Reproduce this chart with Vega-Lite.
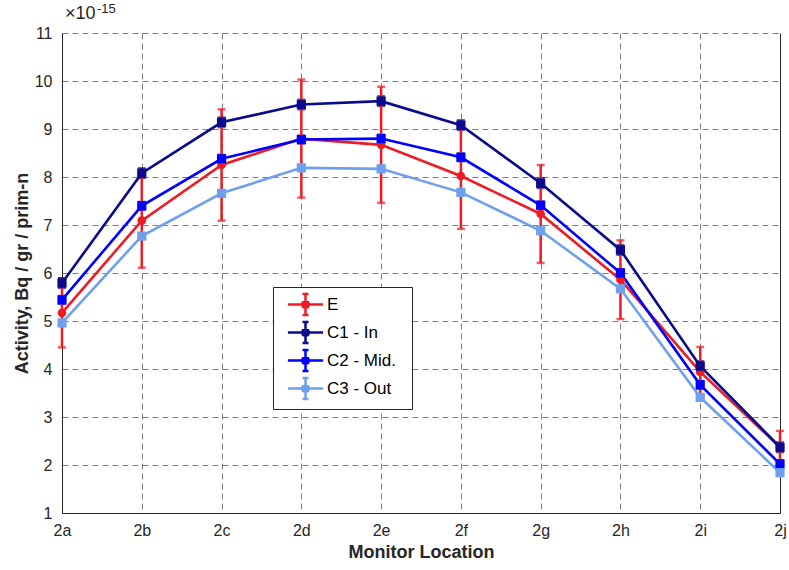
{
  "$schema": "https://vega.github.io/schema/vega-lite/v6.json",
  "width": 718,
  "height": 480,
  "autosize": {"type": "none"},
  "padding": {"left": 62, "top": 33, "right": 9, "bottom": 57},
  "background": "white",
  "config": {
    "view": {"stroke": null},
    "font": "Liberation Sans",
    "axis": {
      "labelFont": "Liberation Sans",
      "titleFont": "Liberation Sans",
      "labelColor": "#262626",
      "titleColor": "#262626",
      "domainColor": "#262626",
      "domainWidth": 1,
      "ticks": false,
      "gridColor": "#262626",
      "gridOpacity": 0.6,
      "gridDash": [6, 4],
      "gridWidth": 1,
      "labelFontSize": 16,
      "titleFontSize": 18,
      "titleFontWeight": "bold"
    }
  },
  "datasets": {
    "act": [
      {"loc": "2a", "series": "E", "v": 5.17e-15, "e": 0.72e-15},
      {"loc": "2b", "series": "E", "v": 7.09e-15, "e": 0.98e-15},
      {"loc": "2c", "series": "E", "v": 8.25e-15, "e": 1.16e-15},
      {"loc": "2d", "series": "E", "v": 8.80e-15, "e": 1.23e-15},
      {"loc": "2e", "series": "E", "v": 8.67e-15, "e": 1.21e-15},
      {"loc": "2f", "series": "E", "v": 8.02e-15, "e": 1.10e-15},
      {"loc": "2g", "series": "E", "v": 7.23e-15, "e": 1.02e-15},
      {"loc": "2h", "series": "E", "v": 5.86e-15, "e": 0.82e-15},
      {"loc": "2i", "series": "E", "v": 3.94e-15, "e": 0.52e-15},
      {"loc": "2j", "series": "E", "v": 2.37e-15, "e": 0.34e-15},
      {"loc": "2a", "series": "C1 - In", "v": 5.79e-15, "e": 0.10e-15},
      {"loc": "2b", "series": "C1 - In", "v": 8.08e-15, "e": 0.10e-15},
      {"loc": "2c", "series": "C1 - In", "v": 9.14e-15, "e": 0.10e-15},
      {"loc": "2d", "series": "C1 - In", "v": 9.51e-15, "e": 0.10e-15},
      {"loc": "2e", "series": "C1 - In", "v": 9.58e-15, "e": 0.10e-15},
      {"loc": "2f", "series": "C1 - In", "v": 9.08e-15, "e": 0.10e-15},
      {"loc": "2g", "series": "C1 - In", "v": 7.87e-15, "e": 0.10e-15},
      {"loc": "2h", "series": "C1 - In", "v": 6.48e-15, "e": 0.10e-15},
      {"loc": "2i", "series": "C1 - In", "v": 4.06e-15, "e": 0.10e-15},
      {"loc": "2j", "series": "C1 - In", "v": 2.37e-15, "e": 0.10e-15},
      {"loc": "2a", "series": "C2 - Mid.", "v": 5.44e-15, "e": 0.08e-15},
      {"loc": "2b", "series": "C2 - Mid.", "v": 7.40e-15, "e": 0.08e-15},
      {"loc": "2c", "series": "C2 - Mid.", "v": 8.38e-15, "e": 0.08e-15},
      {"loc": "2d", "series": "C2 - Mid.", "v": 8.78e-15, "e": 0.08e-15},
      {"loc": "2e", "series": "C2 - Mid.", "v": 8.80e-15, "e": 0.08e-15},
      {"loc": "2f", "series": "C2 - Mid.", "v": 8.41e-15, "e": 0.08e-15},
      {"loc": "2g", "series": "C2 - Mid.", "v": 7.41e-15, "e": 0.08e-15},
      {"loc": "2h", "series": "C2 - Mid.", "v": 6.00e-15, "e": 0.08e-15},
      {"loc": "2i", "series": "C2 - Mid.", "v": 3.67e-15, "e": 0.08e-15},
      {"loc": "2j", "series": "C2 - Mid.", "v": 2.02e-15, "e": 0.08e-15},
      {"loc": "2a", "series": "C3 - Out", "v": 4.96e-15, "e": 0.06e-15},
      {"loc": "2b", "series": "C3 - Out", "v": 6.77e-15, "e": 0.06e-15},
      {"loc": "2c", "series": "C3 - Out", "v": 7.66e-15, "e": 0.06e-15},
      {"loc": "2d", "series": "C3 - Out", "v": 8.19e-15, "e": 0.06e-15},
      {"loc": "2e", "series": "C3 - Out", "v": 8.17e-15, "e": 0.06e-15},
      {"loc": "2f", "series": "C3 - Out", "v": 7.68e-15, "e": 0.06e-15},
      {"loc": "2g", "series": "C3 - Out", "v": 6.88e-15, "e": 0.06e-15},
      {"loc": "2h", "series": "C3 - Out", "v": 5.67e-15, "e": 0.06e-15},
      {"loc": "2i", "series": "C3 - Out", "v": 3.41e-15, "e": 0.06e-15},
      {"loc": "2j", "series": "C3 - Out", "v": 1.84e-15, "e": 0.06e-15}
    ]
  },
  "resolve": {"axis": {"y": "independent"}},
  "layer": [
    {
      "data": {"name": "act"},
      "mark": {"type": "line", "strokeWidth": 2.6},
      "encoding": {
        "x": {
          "field": "loc", "type": "ordinal",
          "scale": {"type": "point", "padding": 0},
          "axis": {"title": "Monitor Location", "labelAngle": 0, "labelPadding": 9, "titlePadding": 5, "grid": true}
        },
        "y": {
          "field": "v", "type": "quantitative",
          "scale": {"domain": [1e-15, 11e-15], "nice": false, "zero": false},
          "axis": {
            "title": "Activity, Bq / gr / prim-n",
            "values": [1e-15, 2e-15, 3e-15, 4e-15, 5e-15, 6e-15, 7e-15, 8e-15, 9e-15, 10e-15, 11e-15],
            "labelExpr": "round(datum.value * 1e15)",
            "labelPadding": 10,
            "titlePadding": 3,
            "grid": true
          }
        },
        "color": {
          "field": "series", "type": "nominal",
          "scale": {"domain": ["E", "C1 - In", "C2 - Mid.", "C3 - Out"], "range": ["#ed1c24", "#0a0a8c", "#0000ff", "#6fa0ee"]},
          "legend": {
            "title": "\u00a0",
            "titleOrient": "right",
            "titlePadding": 11,
            "titleFontSize": 8,
            "orient": "none",
            "legendX": 211,
            "legendY": 254,
            "symbolType": "M-1.6,0H1.6M0,-0.95V0.95M-0.27,-0.95H0.27M-0.27,0.95H0.27M0.32,0L0.226,0.226L0,0.32L-0.226,0.226L-0.32,0L-0.226,-0.226L0,-0.32L0.226,-0.226Z",
            "symbolSize": 484,
            "symbolStrokeWidth": 2.5,
            "labelFont": "Liberation Sans",
            "labelFontSize": 17,
            "labelColor": "#000000",
            "padding": 5,
            "symbolOffset": 15,
            "labelOffset": 9,
            "rowPadding": -6,
            "strokeColor": "#262626",
            "fillColor": "white",
            "encode": {
              "symbols": {
                "update": {
                  "shape": {"value": "M-1.6,0H1.6M0,-0.95V0.95M-0.27,-0.95H0.27M-0.27,0.95H0.27M0.32,0L0.226,0.226L0,0.32L-0.226,0.226L-0.32,0L-0.226,-0.226L0,-0.32L0.226,-0.226Z"},
                  "size": {"value": 484},
                  "strokeWidth": {"value": 2.5},
                  "fill": {"scale": "color", "field": "value"},
                  "stroke": {"scale": "color", "field": "value"},
                  "opacity": {"value": 1}
                }
              }
            }
          }
        },
        "order": {"field": "loc"}
      }
    },
    {
      "data": {"name": "act"},
      "mark": {"type": "errorbar", "ticks": {"size": 8, "thickness": 2.5}, "thickness": 2.5},
      "encoding": {
        "x": {"field": "loc", "type": "ordinal"},
        "y": {
          "field": "v", "type": "quantitative",
          "axis": {"orient": "right", "labels": false, "ticks": false, "grid": false, "title": null, "domain": true}
        },
        "yError": {"field": "e"},
        "color": {"field": "series", "type": "nominal"}
      }
    },
    {
      "data": {"name": "act"},
      "transform": [{"filter": "datum.series === 'E'"}],
      "mark": {"type": "point", "shape": "circle", "filled": true, "opacity": 1, "size": 75},
      "encoding": {
        "x": {"field": "loc", "type": "ordinal"},
        "y": {"field": "v", "type": "quantitative", "axis": null},
        "color": {"field": "series", "type": "nominal"}
      }
    },
    {
      "data": {"name": "act"},
      "transform": [{"filter": "datum.series !== 'E'"}],
      "mark": {"type": "point", "shape": "square", "filled": true, "opacity": 1, "size": 85},
      "encoding": {
        "x": {"field": "loc", "type": "ordinal"},
        "y": {"field": "v", "type": "quantitative", "axis": null},
        "color": {"field": "series", "type": "nominal"}
      }
    },
    {
      "data": {"values": [{"loc": "2a", "v": 11e-15, "t": "×10"}]},
      "mark": {"type": "text", "align": "left", "baseline": "alphabetic", "dy": -14, "dx": 3, "fontSize": 18, "font": "Liberation Sans", "color": "#262626"},
      "encoding": {
        "x": {"field": "loc", "type": "ordinal"},
        "y": {"field": "v", "type": "quantitative", "axis": null},
        "text": {"field": "t"}
      }
    },
    {
      "data": {"values": [{"loc": "2a", "v": 11e-15, "t": "-15"}]},
      "mark": {"type": "text", "align": "left", "baseline": "alphabetic", "dy": -20, "dx": 35, "fontSize": 13, "font": "Liberation Sans", "color": "#262626"},
      "encoding": {
        "x": {"field": "loc", "type": "ordinal"},
        "y": {"field": "v", "type": "quantitative", "axis": null},
        "text": {"field": "t"}
      }
    }
  ]
}
